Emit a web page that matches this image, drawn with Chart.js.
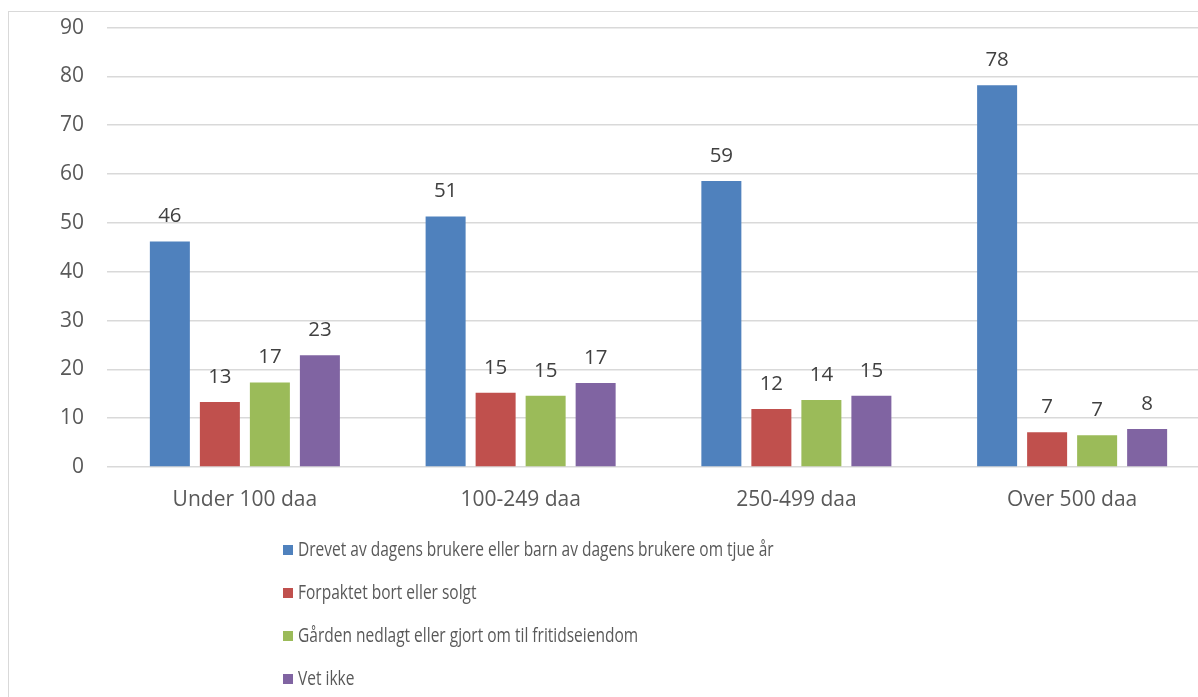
<!DOCTYPE html>
<html>
<head>
<meta charset="utf-8">
<script src="https://cdn.jsdelivr.net/npm/chart.js@4/dist/chart.umd.min.js"></script>
<style>
    html, body { margin: 0; padding: 0; background: #fff; overflow: hidden; width: 1198px; height: 697px; }
    #frame { position: absolute; left: 8px; top: 11px; width: 1400px; height: 900px; border: 1px solid #d9d9d9; box-sizing: border-box; }
    #wrap { position: absolute; left: 0; top: -8px; width: 1215px; height: 705px; }
    #legend { position: absolute; left: 283px; top: 531px; font-family: 'Open Sans', sans-serif; font-size: 20px; color: #595959; }
    #legend .row { height: 43px; line-height: 36px; white-space: nowrap; }
    #legend .sw { display: inline-block; width: 10px; height: 10px; margin-right: 5px; vertical-align: 1px; }
    #legend .txt { display: inline-block; transform: scaleX(0.775); transform-origin: 0 50%; }
</style>
</head>
<body>
<div id="frame"></div>
<div id="wrap"><canvas id="c" width="1215" height="705"></canvas></div>
<div id="legend"></div>
<script>
    // kategorier og verdier (prosent)
    const categories = ['Under 100 daa', '100-249 daa', '250-499 daa', 'Over 500 daa'];
    const seriesNames = [
        'Drevet av dagens brukere eller barn av dagens brukere om tjue år',
        'Forpaktet bort eller solgt',
        'Gården nedlagt eller gjort om til fritidseiendom',
        'Vet ikke'
    ];
    const drevet = [46.2, 51.3, 58.6, 78.2];
    const forpaktet = [13.3, 15.2, 11.9, 7.1];
    const nedlagt = [17.3, 14.6, 13.7, 6.5];
    const vetIkke = [22.9, 17.2, 14.6, 7.8];
    const colors = ['#4f81bd', '#c0504d', '#9bbb59', '#8064a2'];
    const yTicks = [0, 10, 20, 30, 40, 50, 60, 70, 80, 90];

    const FONT = "'Open Sans', sans-serif";

    // verdietiketter over stolpene
    const valueLabels = {
        id: 'valueLabels',
        afterDatasetsDraw(chart) {
            const ctx = chart.ctx;
            ctx.save();
            ctx.font = '20.5px ' + FONT;
            ctx.fillStyle = '#404040';
            ctx.textAlign = 'center';
            ctx.textBaseline = 'middle';
            chart.data.datasets.forEach((ds, i) => {
                chart.getDatasetMeta(i).data.forEach((bar, j) => {
                    ctx.fillText(String(Math.round(ds.data[j])), bar.x, bar.y - 25);
                });
            });
            ctx.restore();
        }
    };

    const datasets = [drevet, forpaktet, nedlagt, vetIkke].map((d, i) => ({
        label: seriesNames[i],
        data: d,
        backgroundColor: colors[i],
        borderWidth: 0,
        categoryPercentage: 0.7254,
        barPercentage: 0.8
    }));

    new Chart(document.getElementById('c'), {
        type: 'bar',
        data: { labels: categories, datasets },
        options: {
            responsive: false,
            animation: false,
            layout: { padding: { top: 0, right: 5, left: 0, bottom: 0 } },
            plugins: { legend: { display: false }, tooltip: { enabled: false } },
            scales: {
                x: {
                    grid: { display: false, drawTicks: false },
                    border: { display: false },
                    ticks: { color: '#595959', font: { family: FONT, size: 21 }, padding: 20 },
                    afterFit: (s) => { s.height = 230; }
                },
                y: {
                    min: 0, max: 90,
                    afterBuildTicks: (s) => { s.ticks = yTicks.map(v => ({ value: v })); },
                    grid: { color: '#d9d9d9', lineWidth: 1.5, drawTicks: false },
                    border: { display: false },
                    ticks: { color: '#595959', font: { family: FONT, size: 21 }, padding: 23 },
                    afterFit: (s) => { s.width = 107; }
                }
            }
        },
        plugins: [valueLabels]
    });

    // legende
    const leg = document.getElementById('legend');
    seriesNames.forEach((n, i) => {
        const row = document.createElement('div');
        row.className = 'row';
        row.innerHTML = `<span class="sw" style="background:${colors[i]}"></span><span class="txt">${n}</span>`;
        leg.appendChild(row);
    });
</script>
</body>
</html>
